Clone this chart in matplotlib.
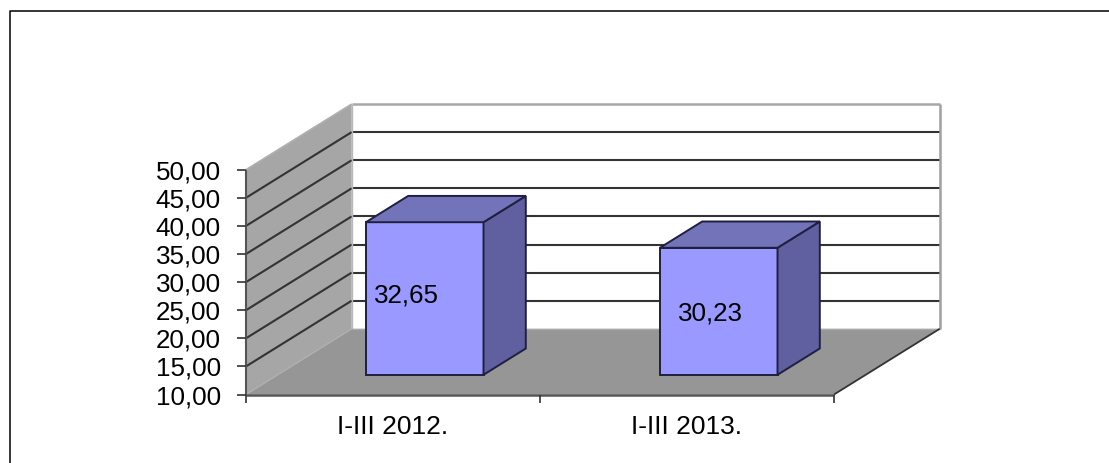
import matplotlib
matplotlib.use("Agg")
import matplotlib.pyplot as plt
from matplotlib.lines import Line2D

plt.rcParams['font.family'] = ['Liberation Sans', 'DejaVu Sans']

categories = ['I-III 2012.', 'I-III 2013.']
bar_heights = [37.15, 32.6]   # as drawn, the labels do not agree with the heights
bar_labels = ['32,65', '30,23']
label_values = [24.1, 20.9]
label_shift = [-18.5, -8]
y_ticks = [10, 15, 20, 25, 30, 35, 40, 45, 50]
y_tick_labels = ['10,00', '15,00', '20,00', '25,00', '30,00', '35,00', '40,00', '45,00', '50,00']

# chart box in pixels
X0 = 246.0
Y0 = 394.5
PLOT_W = 588.0
UNIT = 5.62
DEPTH_X = 105.7
DEPTH_Y = 65.7
BAR_W = 0.4


def px(cat, val, depth=0.0):
    # cat runs 0..n along the front, val is the y axis, depth 0..1 goes to the back
    x = X0 + cat / len(categories) * PLOT_W + depth * DEPTH_X
    y = Y0 - (val - y_ticks[0]) * UNIT - depth * DEPTH_Y
    return x, y


def face(ax, pts, fc, ec='none', lw=0.0, z=1):
    ax.fill([p[0] for p in pts], [p[1] for p in pts], fc=fc, ec=ec, lw=lw, zorder=z, joinstyle='miter')


def seg(ax, a, b, color='#333333', lw=1.5, z=2):
    ax.plot([a[0], b[0]], [a[1], b[1]], color=color, lw=lw, zorder=z, solid_capstyle='butt')


fig = plt.figure(figsize=(11.09, 4.63), dpi=100)
ax = fig.add_axes([0, 0, 1, 1])
ax.set_xlim(0, 1109)
ax.set_ylim(463, 0)
ax.axis('off')

# outer frame, only left and top are visible
fig.add_artist(Line2D([9.5 / 1109, 9.5 / 1109, 1],
                      [0, 1 - 10.5 / 463, 1 - 10.5 / 463], color='black', lw=1.1))

n = len(categories)
top = y_ticks[-1]
bot = y_ticks[0]

# walls and floor
face(ax, [px(0, bot), px(0, top), px(0, top, 1), px(0, bot, 1)], '#A6A6A6')
face(ax, [px(0, bot), px(n, bot), px(n, bot, 1), px(0, bot, 1)], '#969696')

# gridlines on the side wall and back wall
for v in y_ticks[1:-1]:
    seg(ax, px(0, v), px(0, v, 1))
    seg(ax, px(0, v, 1), px(n, v, 1))

# back wall outline in grey
seg(ax, px(0, top), px(0, top, 1), '#B0B0B0', 1.2)
seg(ax, px(0, top, 1), px(n, top, 1), '#A8A8A8', 1.8)
seg(ax, px(n, top, 1), px(n, bot, 1), '#A0A0A0', 1.8)
seg(ax, px(0, top, 1), px(0, bot, 1), '#B8B8B8', 1.0)
seg(ax, px(0, bot, 1), px(n, bot, 1), '#A8A8A8', 1.0)
seg(ax, px(0, bot), px(0, bot, 1), '#B0B0B0', 1.0)

# axes at the front
seg(ax, px(n, bot), px(n, bot, 1), '#333333', 1.3, 3)
seg(ax, px(0, bot), px(n, bot), '#555555', 1.8, 3)
seg(ax, px(0, bot), px(0, top), '#555555', 1.5, 3)
for v, lab in zip(y_ticks, y_tick_labels):
    x, y = px(0, v)
    seg(ax, (x - 9, y), (x, y), '#333333', 1.2, 3)
    ax.text(221, y + 2.5, lab, ha='right', va='center', fontsize=18.7, color='black')
for c in range(n + 1):
    x, y = px(c, bot)
    seg(ax, (x, y), (x, y + 8), '#333333', 1.2, 3)
for c, lab in enumerate(categories):
    x, y = px(c + 0.5, bot)
    ax.text(x - 0.5, 427, lab, ha='center', va='center', fontsize=19, color='black')

# bars
for c, h in enumerate(bar_heights):
    l = c + 0.5 - BAR_W / 2
    r = c + 0.5 + BAR_W / 2
    d0 = 0.3
    d1 = 0.7
    edge = '#1F1F40'
    face(ax, [px(l, bot, d0), px(r, bot, d0), px(r, h, d0), px(l, h, d0)], '#9999FF', edge, 1.4, 5)
    face(ax, [px(r, bot, d0), px(r, bot, d1), px(r, h, d1), px(r, h, d0)], '#6060A0', edge, 1.4, 5)
    face(ax, [px(l, h, d0), px(r, h, d0), px(r, h, d1), px(l, h, d1)], '#7373B9', edge, 1.4, 5)
    x, y = px(c + 0.5, label_values[c], d0)
    ax.text(x + label_shift[c], y, bar_labels[c], ha='center', va='center',
            fontsize=18.7, color='black', zorder=6)

fig.savefig('out.png', dpi=100)
